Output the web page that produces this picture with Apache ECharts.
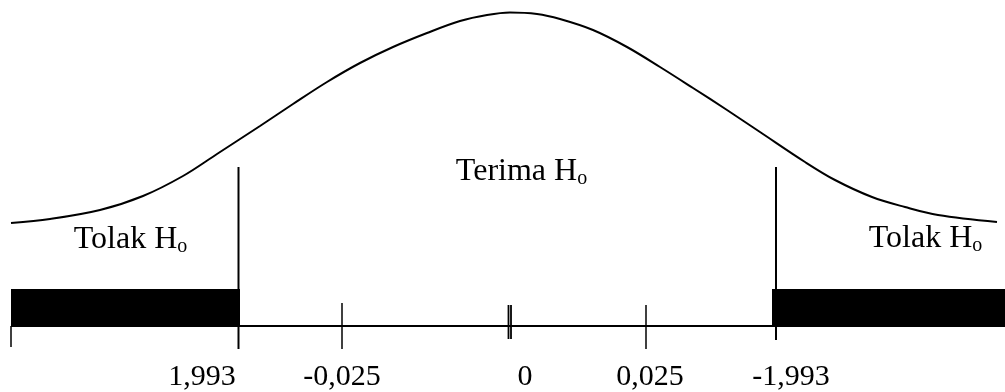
<!DOCTYPE html>
<html>
<head>
<meta charset="utf-8">
<script src="https://cdn.jsdelivr.net/npm/echarts@6/dist/echarts.min.js"></script>
<style>
  html, body { margin: 0; padding: 0; background: #fff; }
  #curve-chart { width: 1005px; height: 392px; }
</style>
</head>
<body>
<div id="curve-chart"></div>
<script>
// bell curve
var curveX = [-4.99, -4.6, -4.1, -3.67, -3.27, -2.93, -2.5, -2.17, -1.83, -1.5, -1.17, -0.83, -0.5, -0.23, 0,
  0.27, 0.5, 0.83, 1.17, 1.5, 1.83, 2.17, 2.5, 2.95, 3.25, 3.62, 3.95, 4.28, 4.87];
var curveY = [1.03, 1.07, 1.16, 1.3, 1.5, 1.72, 2.0, 2.22, 2.44, 2.63, 2.79, 2.93, 3.05, 3.11, 3.135,
  3.12, 3.07, 2.96, 2.79, 2.59, 2.38, 2.16, 1.94, 1.64, 1.46, 1.29, 1.19, 1.11, 1.04];

// critical lines
var critX = [-2.715, 2.66];
var critTop = [1.59, 1.59];
var critBottom = [-0.23, -0.14];

// rejection regions (black bars)
var rejectFrom = [-4.99, 2.62];
var rejectTo = [-2.7, 4.95];
var barTop = 0.37;
var barBottom = -0.01;

// axis ticks
var tickX = [-4.99, -1.68, -0.015, 0.01, 1.36];
var tickTop = [0, 0.23, 0.21, 0.21, 0.21];
var tickBottom = [-0.21, -0.23, -0.13, -0.13, -0.23];

// tick labels
var tickLabels = ["1,993", "-0,025", "0", "0,025", "-1,993"];
var tickLabelX = [-3.08, -1.68, 0.15, 1.4, 2.81];
var tickLabelY = -0.51;

// region labels
var regionLabels = ["Tolak", "Terima", "Tolak"];
var regionLabelX = [-3.795, 0.115, 4.155];
var regionLabelY = [0.86, 1.54, 0.87];

var chartDom = document.getElementById("curve-chart");
var chart = echarts.init(chartDom);
var font = "Liberation Serif";

function segment(x1, y1, x2, y2, width) {
  return {
    type: "line",
    data: [[x1, y1], [x2, y2]],
    symbol: "none",
    silent: true,
    lineStyle: { color: "#000", width: width },
    z: 3,
  };
}

var series = [];

series.push({
  type: "line",
  data: curveX.map(function (x, i) {
    return [x, curveY[i]];
  }),
  smooth: 0.35,
  symbol: "none",
  silent: true,
  lineStyle: { color: "#000", width: 2 },
});

// axis line with black rejection bars
var axisLine = segment(rejectFrom[0], 0, rejectTo[1], 0, 2);
axisLine.markArea = {
  silent: true,
  itemStyle: { color: "#000", opacity: 1 },
  data: rejectFrom.map(function (x, i) {
    return [{ coord: [x, barTop] }, { coord: [rejectTo[i], barBottom] }];
  }),
};
series.push(axisLine);

for (var i = 0; i < critX.length; i++) {
  series.push(segment(critX[i], critTop[i], critX[i], critBottom[i], 2));
}
for (var j = 0; j < tickX.length; j++) {
  series.push(segment(tickX[j], tickTop[j], tickX[j], tickBottom[j], j === 2 || j === 3 ? 1.8 : 1.5));
}

series.push({
  type: "scatter",
  symbolSize: 0,
  silent: true,
  itemStyle: { opacity: 1 },
  data: tickLabels.map(function (t, i) {
    return { value: [tickLabelX[i], tickLabelY], name: t };
  }),
  label: {
    show: true,
    position: "inside",
    fontFamily: font,
    fontSize: 30,
    color: "#000",
    formatter: function (p) {
      return p.name;
    },
  },
});

series.push({
  type: "scatter",
  symbolSize: 0,
  silent: true,
  itemStyle: { opacity: 1 },
  data: regionLabels.map(function (t, i) {
    return { value: [regionLabelX[i], regionLabelY[i]], name: t };
  }),
  label: {
    show: true,
    position: "inside",
    color: "#000",
    formatter: function (p) {
      return "{m|" + p.name + " H}{s|o}";
    },
    rich: {
      m: { fontFamily: font, fontSize: 32, color: "#000" },
      s: { fontFamily: font, fontSize: 20, color: "#000", padding: [14, 0, 0, 0] },
    },
  },
});

var option = {
  animation: false,
  backgroundColor: "#fff",
  grid: { left: 0, right: 0, top: 0, bottom: 0 },
  xAxis: {
    type: "value",
    min: -5.1,
    max: 4.95,
    show: false,
  },
  yAxis: {
    type: "value",
    min: -0.66,
    max: 3.26,
    show: false,
  },
  series: series,
};

chart.setOption(option);
</script>
</body>
</html>
